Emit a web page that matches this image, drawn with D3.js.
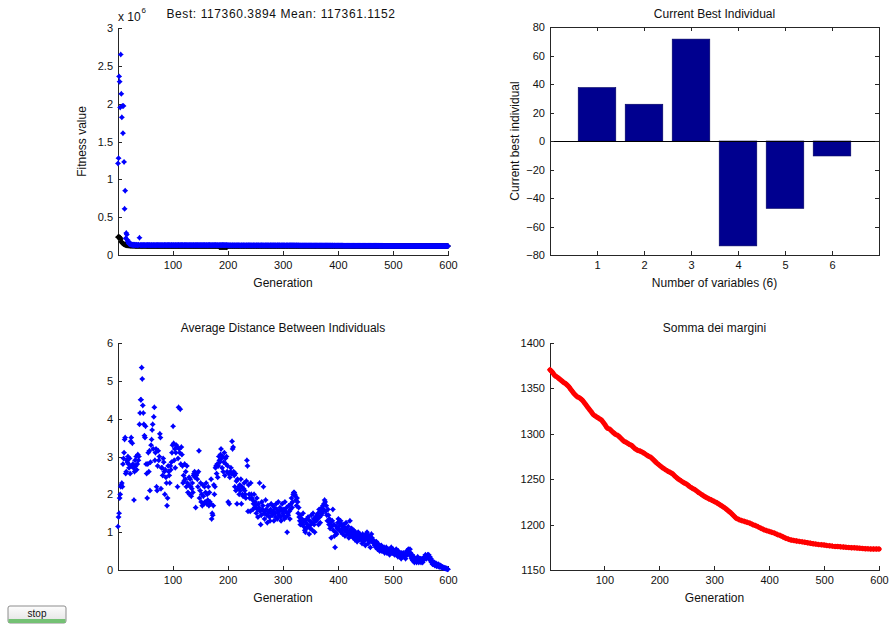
<!DOCTYPE html>
<html>
<head>
<meta charset="utf-8">
<script src="https://cdn.jsdelivr.net/npm/d3@7"></script>
<style>
  body { margin: 0; background: #fff; }
  svg { display: block; }
</style>
</head>
<body>
<svg id="fig" width="892" height="627"></svg>
<script>
// ---------------- data ----------------
const generations = d3.range(1, 601);

// Fitness of the best individual per generation
const fitnessBest = [
  235000,240000,232000,236000,226000,210000,178000,165000,158000,151000,146000,142000,138000,135000,132500,130500,128800,127500,126300,125400,
  124600,123900,123300,122800,122400,122000,121700,121400,121100,120900,120700,120500,120300,120100,119950,119800,119650,119500,119400,119300,
  119200,119200,119200,118900,118900,118900,118900,118700,118700,118700,118700,118700,118500,118500,118500,118500,118300,118300,118300,118300,
  118100,118100,118100,118100,118100,118000,118000,118000,118000,117900,117900,117900,117900,117900,117900,117820,117820,117820,117820,117820,
  117760,117760,117760,117760,117760,117760,117710,117710,117710,117710,117710,117710,117710,117680,117680,117680,117680,117680,117680,117680,
  117650,117650,117650,117650,117650,117650,117650,117650,117620,117620,117620,117620,117620,117620,117620,117620,117620,117620,117620,117620,
  117620,117620,117620,117620,117620,117590,117590,117590,117590,117590,117590,117590,117590,117590,117590,117590,117590,117590,117590,117590,
  117590,117590,117590,117560,117560,117560,117560,117560,117560,117560,117560,117560,117560,117540,117540,117540,117540,117540,117540,117540,
  117540,117540,117540,117540,117540,117540,117520,117520,117520,117520,117520,117520,117520,117520,117520,117520,117520,117520,117520,117520,
  117520,117520,117520,117520,104800,104600,104700,104500,104600,104400,104500,104300,104400,104200,104300,104100,104200,104000,104100,117490,
  117490,117490,117490,117490,117490,117490,117490,117470,117470,117470,117470,117470,117470,117470,117470,117470,117470,117470,117470,117470,
  117470,117470,117470,117470,117470,117470,117470,117470,117470,117470,117450,117450,117450,117450,117450,117450,117450,117450,117450,117450,
  117450,117450,117450,117450,117450,117440,117440,117440,117440,117440,117440,117440,117440,117440,117440,117440,117440,117440,117440,117440,
  117440,117440,117440,117440,117440,117440,117440,117440,117430,117430,117430,117430,117430,117430,117430,117430,117430,117430,117430,117430,
  117430,117430,117430,117430,117430,117430,117430,117430,117430,117430,117430,117430,117430,117430,117420,117420,117420,117420,117420,117420,
  117420,117420,117420,117420,117420,117420,117420,117420,117420,117420,117420,117420,117420,117420,117420,117420,117420,117420,117420,117420,
  117420,117420,117420,117410,117410,117410,117410,117410,117410,117410,117410,117410,117410,117410,117410,117410,117410,117410,117410,117410,
  117410,117410,117410,117410,117410,117410,117410,117410,117410,117410,117410,117410,117400,117400,117400,117400,117400,117400,117400,117400,
  117400,117400,117400,117400,117400,117400,117400,117400,117400,117400,117400,117400,117400,117400,117400,117400,117400,117400,117400,117400,
  117400,117400,117400,117400,117400,117400,117395,117395,117395,117395,117395,117395,117395,117395,117395,117395,117395,117395,117395,117395,
  117395,117395,117395,117395,117395,117395,117395,117395,117395,117395,117395,117395,117395,117395,117395,117395,117395,117395,117395,117395,
  117395,117395,117395,117395,117390,117390,117390,117390,117390,117390,117390,117390,117390,117390,117390,117390,117390,117390,117390,117390,
  117390,117390,117390,117390,117390,117390,117390,117390,117390,117390,117390,117390,117390,117390,117390,117390,117390,117390,117390,117390,
  117390,117390,117390,117390,117390,117390,117390,117390,117390,117385,117385,117385,117385,117385,117385,117385,117385,117385,117385,117385,
  117385,117385,117385,117385,117385,117385,117385,117385,117385,117385,117385,117385,117385,117385,117385,117385,117385,117385,117385,117385,
  117385,117385,117380,117380,117380,117380,117380,117380,117380,117380,117380,117380,117380,117380,117380,117380,117380,117380,117380,117380,
  117380,117380,117380,117380,117380,117380,117380,117380,117380,117380,117380,117380,117380,117380,117380,117375,117375,117375,117375,117375,
  117375,117375,117375,117375,117375,117375,117375,117375,117375,117375,117375,117375,117375,117375,117375,117375,117375,117375,117375,117375,
  117375,117375,117375,117375,117375,117375,117375,117370,117370,117370,117370,117370,117370,117370,117370,117370,117370,117370,117370,117370,
  117370,117370,117370,117365,117365,117365,117365,117365,117365,117365,117365,117365,117365,117360.3894,117360.3894,117360.3894,117360.3894,117360.3894,117360.3894,117360.3894
];

// Mean fitness of the population per generation
const fitnessMean = [
  1210000,1280000,2360000,2290000,1950000,2650000,2130000,1820000,1970000,1610000,1970000,1230000,610000,850000,220000,290000,270000,200000,180000,160000,
  150000,142000,158000,139000,134500,141000,131800,135600,130400,139200,131700,134800,129900,131200,135100,130300,129600,134700,130900,228000,
  131500,129800,133200,130400,128900,132100,130700,129500,131800,130200,128700,131300,129900,130600,132400,129200,130800,131100,128600,130300,
  129400,131600,130100,128800,132200,130500,129700,131400,130000,128500,131900,129300,130700,132000,129100,130400,131200,128900,130600,129800,
  131300,129600,130200,128400,131700,130900,129200,132300,130100,128700,131000,129500,130800,131500,128800,130300,129900,131800,130600,129100,
  130500,131200,128900,129700,131600,130000,128600,131400,129800,130700,132100,129300,130400,131100,128500,130900,129600,131700,130200,128800,
  129900,131300,130600,128700,131800,129400,130100,131000,128900,130800,129500,131500,130300,128600,131200,129700,130500,131900,129000,130400,
  131100,129200,130700,128800,131400,130000,129600,131600,128500,130900,129800,131300,130200,128900,131000,129400,130600,131700,129100,130300,
  129700,131500,130100,128600,131200,129900,130800,131000,128700,130500,129300,131800,130000,128800,131300,129500,130700,131100,129000,130400,
  131200,129600,130300,129100,130500,131200,129800,130600,128900,130700,131100,129400,130800,128200,131300,130100,129600,130800,130400,128700,
  128100,127400,129300,126800,128600,127900,126500,129000,127600,128300,126900,128800,127300,126600,128400,127800,126400,129100,127500,128000,
  126700,128500,127200,126300,128700,127700,126800,128200,127400,126500,128900,127100,126200,128100,127900,126900,128400,127300,126400,128600,
  127600,126600,128300,127000,126100,128800,127500,126700,128000,127200,126300,128500,127800,126800,127400,128200,126500,127100,128700,126900,
  127300,128100,126400,127700,126600,128400,127000,126200,128600,127400,126800,127900,126300,128300,127100,126700,128000,127500,126400,127800,
  126900,128200,127300,126500,127900,126800,128500,127200,126300,128100,127600,126600,127400,128300,126700,127000,128400,126400,127700,126900,
  127500,126300,128000,126800,127200,126400,127900,126600,128200,127100,126500,127700,126200,128000,126900,127400,126300,127800,126700,127300,
  126400,127600,126800,125900,127500,126700,126100,127300,126500,125800,127200,126300,126900,125700,127000,126200,126600,125600,126800,126000,
  125500,126700,125900,126400,125300,126600,125700,126200,125100,126500,125400,126100,125600,124900,126300,125200,125800,124800,126000,125300,
  124700,125900,125100,124600,125700,124900,125400,124400,125600,124800,125200,124300,125500,124600,125000,124200,125300,124500,124900,124100,
  125100,124300,124700,123900,124900,124200,124600,123800,124800,124000,124400,123700,124600,123900,124300,123600,124500,123800,124100,123500,
  124200,123600,124000,123400,124100,123500,123900,123200,124000,123400,123700,123100,123800,123300,123600,123000,123700,123200,123400,122900,
  123500,122900,123300,122700,123400,122800,123100,122600,123200,122700,122900,122400,123000,122500,122800,122300,122900,122400,122600,122200,
  122700,122200,122500,122000,122600,122100,122300,121900,122400,121900,122200,121700,122100,121700,121900,121500,122000,121500,121700,121300,
  121800,121300,121500,121100,121600,121100,121300,120900,121400,120900,121100,120700,121200,120700,120900,120500,121000,120500,120700,120300,
  120700,120300,120500,120100,120500,120100,120300,119900,120300,119900,120100,119800,120100,119700,119900,119600,119900,119500,119700,119400,
  119600,119300,119500,119200,119400,119100,119300,119000,119200,118900,119100,118800,119000,118700,118900,118600,118800,118500,118700,118400,
  118600,118400,118500,118300,118400,118200,118300,118100,118200,118000,118100,117950,118000,117900,117950,117850,117900,117800,117850,117750,
  117800,117720,117760,117690,117730,117660,117700,117640,117670,117610,117640,117590,117620,117570,117590,117540,117570,117520,117550,117500,
  117520,117480,117500,117460,117480,117440,117460,117430,117440,117410,117430,117400,117410,117390,117400,117380,117390,117375,117380,117370,
  117372,117368,117370,117366,117368,117365,117366,117364,117365,117363,117364,117362.5,117363,117362,117362,117361.8,117361.6,117361.4,117361.3,117361.1152
];
const bestValue = 117360.3894;
const meanValue = 117361.1152;

// Current best individual (6 variables)
const variableIndex = [1, 2, 3, 4, 5, 6];
const bestIndividual = [37.5, 25.8, 71.5, -73.6, -47.3, -10.5];

// Average distance between individuals per generation
const avgDistance = [
  1.15,1.4,1.5,1.9,2.0,2.2,2.25,2.3,2.2,2.8,2.95,3.1,3.45,3.5,2.55,2.6,2.9,2.85,3.0,2.8,
  2.7,2.95,2.55,3.4,3.5,2.75,3.35,2.8,2.7,1.85,2.6,2.9,2.75,3.0,2.65,2.8,3.05,2.9,3.0,3.85,
  4.15,4.5,4.5,5.35,5.05,4.35,4.15,3.85,3.55,3.5,3.8,2.8,2.55,1.9,2.8,3.1,2.6,3.15,2.1,2.85,
  3.3,3.45,3.7,3.85,3.2,4.05,4.3,2.9,3.1,3.2,2.2,2.1,2.75,3.15,2.9,3.0,3.6,3.5,2.15,2.7,
  2.7,2.5,2.95,2.85,2.6,2.0,2.65,2.45,2.3,1.7,1.9,2.75,2.6,2.5,2.3,2.75,2.65,2.85,3.1,3.3,
  3.8,3.35,2.9,3.2,2.7,3.1,3.3,3.25,2.2,2.95,4.3,3.2,3.1,4.25,2.8,3.25,3.05,2.75,2.3,2.5,
  2.35,2.8,2.4,2.6,2.2,2.75,2.3,2.05,2.25,2.45,2.0,2.4,2.2,1.95,2.15,2.3,2.05,2.5,2.55,2.6,
  2.45,1.65,2.5,2.55,2.4,2.2,2.6,3.15,1.9,2.1,2.3,1.8,2.0,1.7,2.25,1.95,1.75,2.2,1.8,2.05,
  2.3,1.75,2.0,1.85,2.2,1.7,2.05,1.8,1.75,2.4,1.35,1.5,1.45,1.7,2.25,2.0,2.2,2.7,2.75,2.55,
  2.8,2.45,2.75,3.0,2.9,2.85,3.05,3.2,2.95,2.7,3.0,2.6,2.85,3.1,2.5,2.95,2.8,3.0,2.6,2.75,
  1.8,2.55,1.75,2.45,2.6,2.7,2.55,3.4,3.2,3.25,2.6,2.5,2.2,2.55,2.1,2.35,1.75,2.4,2.15,2.2,
  2.0,2.25,2.1,2.4,1.75,2.2,2.0,1.95,2.15,2.3,2.1,2.0,1.9,2.35,2.9,2.75,1.55,2.25,2.0,1.9,
  1.55,2.3,2.0,1.9,1.85,1.6,1.75,2.0,1.65,1.8,1.7,1.5,1.9,1.6,1.4,1.75,1.65,2.3,1.55,1.2,
  1.45,1.8,1.6,1.7,2.2,1.5,1.35,1.55,1.85,1.6,1.45,1.25,1.7,1.5,1.55,1.4,1.3,1.6,1.75,1.5,
  1.45,1.7,1.55,1.3,1.65,1.5,1.4,1.75,1.6,1.35,1.5,1.8,1.45,1.55,1.65,1.4,1.3,1.6,1.75,1.5,
  1.45,1.6,1.35,1.8,1.55,1.4,1.65,1.0,1.5,1.45,1.7,1.55,1.35,1.6,1.75,1.9,1.65,1.8,2.0,2.05,
  2.05,2.0,1.95,1.85,1.7,1.9,1.8,1.5,1.65,1.4,1.3,1.2,1.45,1.25,1.35,1.2,1.5,1.15,1.3,1.05,
  1.0,1.25,1.1,1.35,1.2,1.4,1.15,0.95,1.3,1.1,1.2,1.45,1.25,1.05,1.5,1.35,1.2,1.0,1.3,1.4,
  1.3,1.45,1.35,1.5,1.2,1.6,1.4,1.25,1.55,1.45,1.65,1.5,1.7,1.6,1.75,1.85,1.8,1.55,1.7,1.45,
  1.3,1.6,1.45,1.2,1.35,1.1,1.25,0.85,1.15,1.3,1.6,1.05,1.2,0.9,0.6,1.0,1.15,0.95,1.1,1.25,
  1.35,1.15,1.05,1.25,1.3,1.0,1.2,1.1,0.95,1.15,1.2,1.05,0.9,1.1,1.25,1.0,1.05,0.95,1.15,0.85,
  1.0,1.3,1.05,0.9,1.1,0.95,1.0,0.85,1.05,0.9,0.8,1.0,0.95,0.85,0.75,0.9,1.0,0.85,0.8,0.95,
  0.9,0.8,0.85,0.7,0.95,0.85,0.75,0.9,0.8,0.65,0.85,0.95,1.0,0.8,0.7,0.9,0.75,0.85,0.6,0.8,
  0.95,0.85,0.75,0.8,0.7,0.75,0.65,0.7,0.6,0.75,0.65,0.55,0.7,0.6,0.65,0.5,0.6,0.55,0.65,0.5,
  0.6,0.55,0.5,0.6,0.45,0.55,0.5,0.6,0.45,0.5,0.55,0.45,0.5,0.4,0.55,0.45,0.6,0.5,0.45,0.55,
  0.5,0.45,0.4,0.5,0.45,0.55,0.4,0.45,0.35,0.5,0.4,0.45,0.35,0.4,0.3,0.45,0.4,0.35,0.45,0.4,
  0.35,0.4,0.3,0.45,0.5,0.4,0.45,0.55,0.5,0.4,0.55,0.45,0.35,0.3,0.4,0.25,0.3,0.35,0.2,0.25,
  0.3,0.25,0.2,0.3,0.35,0.25,0.2,0.3,0.25,0.3,0.2,0.25,0.3,0.2,0.25,0.3,0.35,0.3,0.4,0.35,
  0.3,0.35,0.4,0.35,0.4,0.3,0.35,0.25,0.3,0.2,0.25,0.15,0.2,0.15,0.2,0.12,0.15,0.18,0.1,0.15,
  0.12,0.1,0.15,0.08,0.1,0.12,0.08,0.1,0.06,0.08,0.07,0.05,0.06,0.05,0.04,0.05,0.03,0.04,0.02,0.02
];

// "Somma dei margini" sampled every 5 generations (first sample at generation 1)
const marginGenerations = [1].concat(d3.range(5, 601, 5));
const marginSum = [
  1370.5,1368,1364,1362,1359.5,1357,1355,1352,1348,1344,1341,1339.5,1337,1333,1329,1325,1321,1319,1317,1315,
  1311,1306.5,1305,1302,1299.5,1298,1295,1292,1290.5,1288.5,1287,1284,1282,1281,1279.5,1277.5,1275.5,1274,1271,1268,
  1265.5,1263,1261,1259,1257.5,1255.5,1252.5,1250,1248,1246,1244.5,1242,1240,1238.5,1236,1234,1232,1230,1228.5,1227,
  1225.5,1224,1222,1220,1218,1215.5,1213,1210,1207,1205.5,1204.5,1203.5,1202.5,1201.5,1200,1199,1197.5,1196,1194.5,1193.5,
  1192.5,1191.5,1190.5,1189,1188,1186.5,1185,1184,1183,1182.5,1182,1181.5,1181,1180.5,1180,1179.5,1179,1178.5,1178,1177.8,
  1177.5,1177,1176.7,1176.3,1176,1175.8,1175.5,1175.3,1175,1174.8,1174.6,1174.4,1174.2,1174,1173.8,1173.5,1173.3,1173.2,1173.1,1173,
  1173
];

// tick values
const fitnessTicks = [0, 500000, 1000000, 1500000, 2000000, 2500000, 3000000];
const generationTicks = [100, 200, 300, 400, 500, 600];
const individualTicks = [-80, -60, -40, -20, 0, 20, 40, 60, 80];
const distanceTicks = [0, 1, 2, 3, 4, 5, 6];
const marginTicks = [1150, 1200, 1250, 1300, 1350, 1400];

// ---------------- drawing ----------------
const FONT = '"Liberation Sans", Arial, Helvetica, sans-serif';
const AXIS_COLOR = "#262626";
const TEXT_COLOR = "#111";
const svg = d3.select("#fig");

// small four-pointed star used as the point marker
const starMarker = {
  draw(ctx, size) {
    const r = Math.sqrt(size) / 2, q = r * 0.45;
    ctx.moveTo(0, -r); ctx.lineTo(q, -q); ctx.lineTo(r, 0); ctx.lineTo(q, q);
    ctx.lineTo(0, r); ctx.lineTo(-q, q); ctx.lineTo(-r, 0); ctx.lineTo(-q, -q);
    ctx.closePath();
  }
};
const markerPath = d3.symbol(starMarker, 36)();

function styleAxis(g) {
  g.attr("font-family", FONT).attr("font-size", 11);
  g.selectAll("path, line").attr("stroke", AXIS_COLOR).attr("shape-rendering", "crispEdges");
  g.selectAll("text").attr("fill", TEXT_COLOR);
}

function drawAxes(box, x, y, xTicks, yTicks, yFormat, boxed) {
  const xAxis = d3.axisBottom(x).tickValues(xTicks).tickSizeInner(-4).tickSizeOuter(0).tickPadding(6)
    .tickFormat(d3.format("d"));
  const yAxis = d3.axisLeft(y).tickValues(yTicks).tickSizeInner(-4).tickSizeOuter(0).tickPadding(5)
    .tickFormat(yFormat);
  svg.append("g").attr("transform", `translate(0,${box.bottom})`).call(xAxis).call(styleAxis);
  svg.append("g").attr("transform", `translate(${box.left},0)`).call(yAxis).call(styleAxis);
  if (boxed) {
    const top = d3.axisTop(x).tickValues(xTicks).tickSizeInner(-4).tickSizeOuter(0).tickFormat("");
    const right = d3.axisRight(y).tickValues(yTicks).tickSizeInner(-4).tickSizeOuter(0).tickFormat("");
    svg.append("g").attr("transform", `translate(0,${box.top})`).call(top).call(styleAxis);
    svg.append("g").attr("transform", `translate(${box.right},0)`).call(right).call(styleAxis);
  }
}

function addText(txt, x, y, opts = {}) {
  const t = svg.append("text").attr("x", x).attr("y", y)
    .attr("font-family", FONT).attr("font-size", opts.size || 12)
    .attr("fill", TEXT_COLOR).attr("text-anchor", opts.anchor || "middle").text(txt);
  if (opts.spacing) t.attr("letter-spacing", opts.spacing);
  if (opts.rotate) t.attr("transform", `rotate(-90,${x},${y})`);
  return t;
}

function scatter(data, x, y, color) {
  svg.append("g").selectAll("path").data(data).join("path")
    .attr("d", markerPath)
    .attr("transform", d => `translate(${x(d[0])},${y(d[1])})`)
    .attr("fill", color);
}

// ---- panel 1: fitness value ----
{
  const box = { left: 118, right: 448, top: 28, bottom: 255 };
  const x = d3.scaleLinear().domain([1, 600]).range([box.left, box.right]);
  const y = d3.scaleLinear().domain([0, 3000000]).range([box.bottom, box.top]);
  drawAxes(box, x, y, generationTicks, fitnessTicks, v => d3.format("~g")(v / 1e6), false);
  scatter(generations.map((g, i) => [g, fitnessBest[i]]), x, y, "#000");
  scatter(generations.map((g, i) => [g, fitnessMean[i]]), x, y, "#0000ff");
  addText(`Best: ${bestValue.toFixed(4)} Mean: ${meanValue.toFixed(4)}`, 281, 18, { spacing: 0.6 });
  addText("Generation", (box.left + box.right) / 2, 287);
  addText("Fitness value", 86, (box.top + box.bottom) / 2, { rotate: true });
  // axis multiplier
  addText("x 10", box.left, 21, { anchor: "start", size: 12 });
  addText("6", box.left + 23.5, 13, { anchor: "start", size: 8 });
}

// ---- panel 2: current best individual ----
{
  const box = { left: 550, right: 879, top: 27, bottom: 255 };
  const x = d3.scaleLinear().domain([0, 7]).range([box.left, box.right]);
  const y = d3.scaleLinear().domain([-80, 80]).range([box.bottom, box.top]);
  svg.append("g").selectAll("rect").data(variableIndex).join("rect")
    .attr("x", d => x(d - 0.4))
    .attr("width", d => x(d + 0.4) - x(d - 0.4))
    .attr("y", (d, i) => y(Math.max(0, bestIndividual[i])))
    .attr("height", (d, i) => Math.abs(y(bestIndividual[i]) - y(0)))
    .attr("fill", "#00008f").attr("stroke", "#000060").attr("stroke-width", 0.6);
  svg.append("line").attr("x1", box.left).attr("x2", box.right).attr("y1", y(0)).attr("y2", y(0))
    .attr("stroke", "#000").attr("shape-rendering", "crispEdges");
  drawAxes(box, x, y, variableIndex, individualTicks, d3.format("d"), true);
  addText("Current Best Individual", (box.left + box.right) / 2, 18);
  addText("Number of variables (6)", (box.left + box.right) / 2, 287);
  addText("Current best individual", 519, (box.top + box.bottom) / 2, { rotate: true });
}

// ---- panel 3: average distance ----
{
  const box = { left: 118, right: 448, top: 343, bottom: 570 };
  const x = d3.scaleLinear().domain([1, 600]).range([box.left, box.right]);
  const y = d3.scaleLinear().domain([0, 6]).range([box.bottom, box.top]);
  drawAxes(box, x, y, generationTicks, distanceTicks, d3.format("d"), false);
  scatter(generations.map((g, i) => [g, avgDistance[i]]), x, y, "#0000ff");
  addText("Average Distance Between Individuals", (box.left + box.right) / 2, 332);
  addText("Generation", (box.left + box.right) / 2, 602);
}

// ---- panel 4: somma dei margini ----
{
  const box = { left: 550, right: 879, top: 343, bottom: 570 };
  const x = d3.scaleLinear().domain([1, 600]).range([box.left, box.right]);
  const y = d3.scaleLinear().domain([1150, 1400]).range([box.bottom, box.top]);
  drawAxes(box, x, y, generationTicks, marginTicks, d3.format("d"), false);
  const pts = marginGenerations.map((g, i) => [g, marginSum[i]]);
  svg.append("path").datum(pts)
    .attr("d", d3.line().x(d => x(d[0])).y(d => y(d[1])))
    .attr("fill", "none").attr("stroke", "#ff0000").attr("stroke-width", 5)
    .attr("stroke-linejoin", "round").attr("stroke-linecap", "round");
  scatter(pts, x, y, "#ff0000");
  addText("Somma dei margini", (box.left + box.right) / 2, 332);
  addText("Generation", (box.left + box.right) / 2, 602);
}

// ---- stop button ----
{
  const defs = svg.append("defs");
  const grad = defs.append("linearGradient").attr("id", "btnGrad").attr("x1", 0).attr("y1", 0).attr("x2", 0).attr("y2", 1);
  grad.append("stop").attr("offset", "0%").attr("stop-color", "#fdfdfd");
  grad.append("stop").attr("offset", "100%").attr("stop-color", "#e2e2e2");
  const b = svg.append("g").attr("transform", "translate(8,606)");
  b.append("rect").attr("width", 58).attr("height", 17).attr("rx", 2)
    .attr("fill", "url(#btnGrad)").attr("stroke", "#8c8c8c");
  b.append("rect").attr("x", 0.5).attr("y", 13).attr("width", 57).attr("height", 4)
    .attr("fill", "#74c174");
  b.append("text").attr("x", 29).attr("y", 11).attr("text-anchor", "middle")
    .attr("font-family", FONT).attr("font-size", 10).attr("fill", "#111").text("stop");
}
</script>
</body>
</html>
